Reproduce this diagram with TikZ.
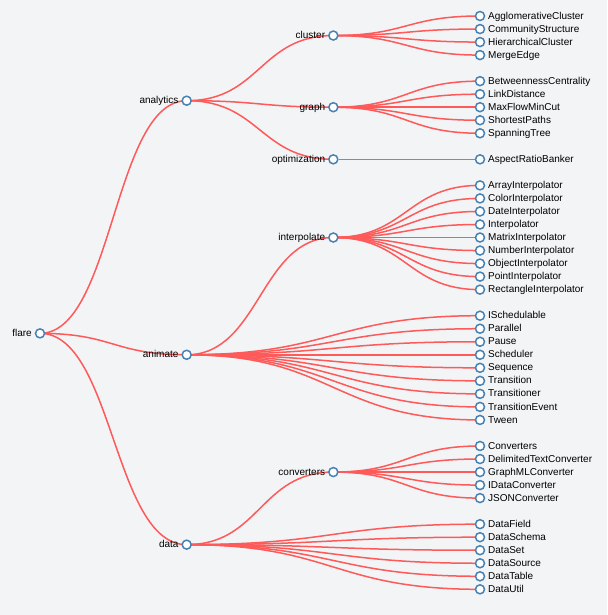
\documentclass[tikz,border=0pt]{standalone}
\usepackage{fontspec}
\setmainfont{Liberation Sans}
\usetikzlibrary{calc}
\definecolor{bgc}{HTML}{F3F4F6}
\definecolor{linkc}{HTML}{FF5A5A}
\definecolor{steel}{HTML}{4682B4}
\pgfdeclarelayer{bglayer}
\pgfdeclarelayer{links}
\pgfsetlayers{bglayer,links,main}
\tikzset{
  dot/.style={circle,draw=steel,fill=white,line width=1.5pt,minimum size=9pt,inner sep=0pt},
  leaflab/.style={anchor=base west,inner sep=0pt,font=\fontsize{10}{12}\selectfont,text=black},
  innerlab/.style={anchor=base east,inner sep=0pt,font=\fontsize{10}{12}\selectfont,text=black},
  link/.style={draw=linkc,line width=1.5pt},
  dlink/.style={to path={let \p1=(\tikztostart), \p2=(\tikztotarget) in (\p1) .. controls ({0.5*\x1+0.5*\x2},\y1) and ({0.5*\x1+0.5*\x2},\y2) .. (\p2)}}
}
\begin{document}
\begin{tikzpicture}[x=1pt,y=-1pt]
\begin{pgfonlayer}{bglayer}
\fill[bgc] (0,0) rectangle (607,615);
\end{pgfonlayer}
\useasboundingbox (0,0) rectangle (607,615);
% internal nodes
\foreach \n/\x/\k in {flare/40/24.357, analytics/186.67/6.5, animate/186.67/26, data/186.67/40.571,
  cluster/333.33/1.5, graph/333.33/7, optimization/333.33/11, interpolate/333.33/17, converters/333.33/35} {
  \node[dot] (\n) at (\x,{16+13.03*\k}) {};
  \node[innerlab] (\n-t) at ({\x-8},{19.1+13.03*\k}) {\n};
}
% leaves
\foreach \n/\k in {AgglomerativeCluster/0, CommunityStructure/1, HierarchicalCluster/2, MergeEdge/3,
  BetweennessCentrality/5, LinkDistance/6, MaxFlowMinCut/7, ShortestPaths/8, SpanningTree/9,
  AspectRatioBanker/11,
  ArrayInterpolator/13, ColorInterpolator/14, DateInterpolator/15, Interpolator/16, MatrixInterpolator/17,
  NumberInterpolator/18, ObjectInterpolator/19, PointInterpolator/20, RectangleInterpolator/21,
  ISchedulable/23, Parallel/24, Pause/25, Scheduler/26, Sequence/27, Transition/28, Transitioner/29,
  TransitionEvent/30, Tween/31,
  Converters/33, DelimitedTextConverter/34, GraphMLConverter/35, IDataConverter/36, JSONConverter/37,
  DataField/39, DataSchema/40, DataSet/41, DataSource/42, DataTable/43, DataUtil/44} {
  \node[dot] (\n) at (480,{16+13.03*\k}) {};
  \node[leaflab] (\n-t) at (488,{19.1+13.03*\k}) {\n};
}
\begin{pgfonlayer}{links}
\foreach \p/\c in {flare/analytics, flare/animate, flare/data,
  analytics/cluster, analytics/graph, analytics/optimization,
  cluster/AgglomerativeCluster, cluster/CommunityStructure, cluster/HierarchicalCluster, cluster/MergeEdge,
  graph/BetweennessCentrality, graph/LinkDistance, graph/MaxFlowMinCut, graph/ShortestPaths, graph/SpanningTree,
  animate/interpolate, animate/ISchedulable, animate/Parallel, animate/Pause, animate/Scheduler, animate/Sequence,
  animate/Transition, animate/Transitioner, animate/TransitionEvent, animate/Tween,
  interpolate/ArrayInterpolator, interpolate/ColorInterpolator, interpolate/DateInterpolator, interpolate/Interpolator,
  interpolate/MatrixInterpolator, interpolate/NumberInterpolator, interpolate/ObjectInterpolator,
  interpolate/PointInterpolator, interpolate/RectangleInterpolator,
  data/converters, data/DataField, data/DataSchema, data/DataSet, data/DataSource, data/DataTable, data/DataUtil,
  converters/Converters, converters/DelimitedTextConverter, converters/GraphMLConverter,
  converters/IDataConverter, converters/JSONConverter}
  {\draw[link] (\p) to[dlink] (\c);}
\end{pgfonlayer}
\draw[link] (optimization) -- (AspectRatioBanker);
\end{tikzpicture}
\end{document}
